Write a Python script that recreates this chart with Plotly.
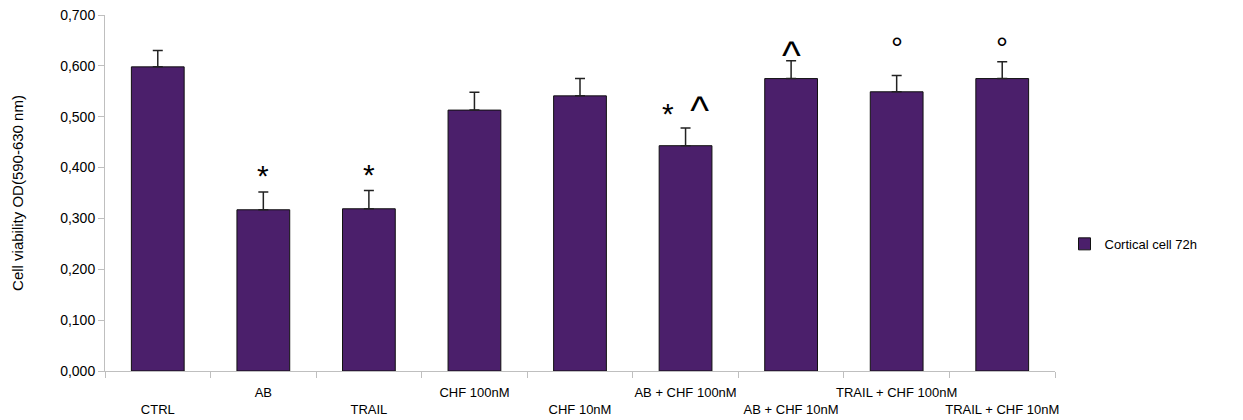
import plotly.graph_objects as go

categories = ["CTRL", "AB", "TRAIL", "CHF 100nM", "CHF 10nM",
              "AB + CHF 100nM", "AB + CHF 10nM", "TRAIL + CHF 100nM", "TRAIL + CHF 10nM"]
values = [0.598, 0.317, 0.319, 0.513, 0.541, 0.443, 0.575, 0.549, 0.575]
errors = [0.032, 0.035, 0.036, 0.035, 0.034, 0.035, 0.035, 0.032, 0.033]
marks = ["", "*", "*", "", "", "* ^", "^", "°", "°"]
series_name = "Cortical cell 72h"
y_ticks = [0.0, 0.1, 0.2, 0.3, 0.4, 0.5, 0.6, 0.7]

# styling
BAR = "#4B1F6B"
AXIS = "#BFBFBF"
FONT = "Liberation Sans, Arial, sans-serif"
mark_dy = [0, 16, 16, 0, 0, 18, 6, 28, 14]
CARET = "<span style='font-size:40px'>^</span>"

tick_text = [c if i % 2 == 1 else "<br>" + c for i, c in enumerate(categories)]

fig = go.Figure()
fig.add_trace(go.Bar(
    x=categories, y=values, name=series_name,
    marker=dict(color=BAR, line=dict(color="#111111", width=1)),
    error_y=dict(type="data", symmetric=False, array=errors,
                 arrayminus=[0] * len(errors), visible=True, color="#222222",
                 thickness=1.5, width=5),
    showlegend=True,
))

for i, (c, v, e, m) in enumerate(zip(categories, values, errors, marks)):
    if not m:
        continue
    fig.add_annotation(x=c, y=v + e, xref="x", yref="y",
                       text=m.replace(" ", "  ").replace("^", CARET), showarrow=False,
                       yanchor="middle", yshift=mark_dy[i],
                       font=dict(family=FONT, size=30, color="#000000"))

fig.update_layout(
    width=1243, height=420,
    margin=dict(l=105, r=188, t=15, b=49, autoexpand=False),
    paper_bgcolor="white", plot_bgcolor="white",
    bargap=0.5,
    separators=",.",
    font=dict(family=FONT, size=14, color="#000000"),
    legend=dict(x=1.01, xanchor="left", y=0.357, yanchor="middle",
                font=dict(family=FONT, size=13), itemwidth=30,
                bgcolor="rgba(0,0,0,0)"),
    xaxis=dict(
        type="category", showline=True, linecolor=AXIS, linewidth=1,
        ticks="outside", tickson="boundaries", ticklen=6, tickcolor=AXIS,
        tickvals=categories, ticktext=tick_text, tickangle=0,
        tickfont=dict(family=FONT, size=13), showgrid=False, zeroline=False,
        automargin=False, ticklabelstandoff=9,
    ),
    yaxis=dict(
        range=[0, 0.7], tickvals=y_ticks, tickformat=".3f",
        showline=True, linecolor=AXIS, linewidth=1,
        ticks="outside", ticklen=6, tickcolor=AXIS,
        showgrid=False, zeroline=False,
        tickfont=dict(family=FONT, size=14),
        title=dict(text="Cell viability OD(590-630 nm)",
                   font=dict(family=FONT, size=15), standoff=32),
        automargin=False,
    ),
)

fig.write_html("out.html")
